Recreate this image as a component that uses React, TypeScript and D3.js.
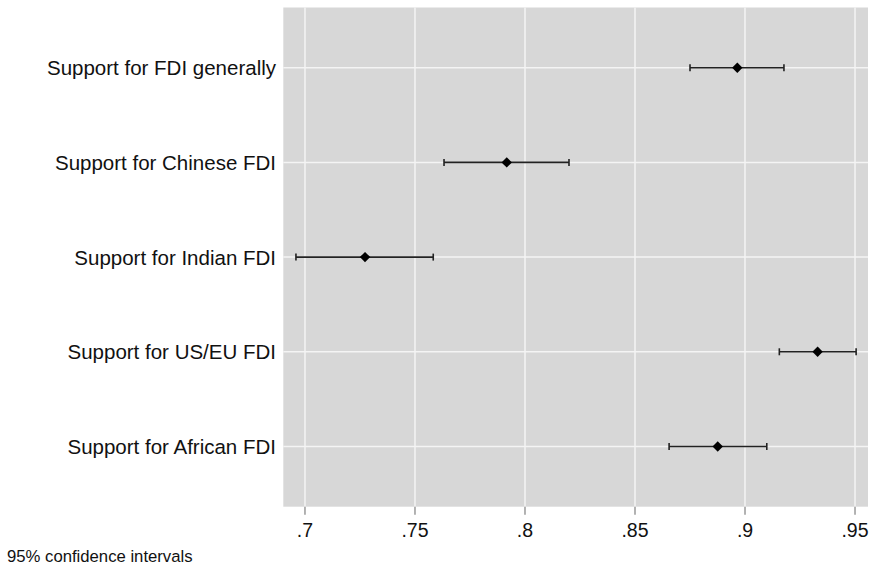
import React from "react";
import * as d3 from "d3";

const categories = [
  "Support for FDI generally",
  "Support for Chinese FDI",
  "Support for Indian FDI",
  "Support for US/EU FDI",
  "Support for African FDI",
];
const estimates = [0.8965, 0.7917, 0.7273, 0.933, 0.8876];
const lowerCI = [0.875, 0.7632, 0.6959, 0.9156, 0.8655];
const upperCI = [0.9177, 0.82, 0.7583, 0.9505, 0.9099];
const xTicks = [0.7, 0.75, 0.8, 0.85, 0.9, 0.95];
const xTickLabels = [".7", ".75", ".8", ".85", ".9", ".95"];
const note = "95% confidence intervals";

const W = 873;
const H = 569;
const plot = { left: 283.3, right: 868, top: 7.5, bottom: 506.7 };

export default function App() {
  const x = d3.scaleLinear().domain([0.69015, 0.9559]).range([plot.left, plot.right]);
  const y = d3
    .scalePoint<string>()
    .domain(categories)
    .range([plot.top, plot.bottom])
    .padding(0.636);
  const font = "'Liberation Sans', Arial, Helvetica, sans-serif";
  const r = 5.2;
  const diamond = `M0,${-r}L${r},0L0,${r}L${-r},0Z`;

  return (
    <div style={{ position: "absolute", left: 0, top: 0 }}>
      <svg width={W} height={H} style={{ display: "block", background: "#fff" }}>
        <rect
          x={plot.left}
          y={plot.top}
          width={plot.right - plot.left}
          height={plot.bottom - plot.top}
          fill="#d7d7d7"
        />
        {xTicks.map((t) => (
          <line
            key={"gx" + t}
            x1={x(t)}
            x2={x(t)}
            y1={plot.top}
            y2={plot.bottom}
            stroke="#f4f4f4"
            strokeWidth={1.5}
          />
        ))}
        {categories.map((c) => (
          <line
            key={"gy" + c}
            x1={plot.left}
            x2={plot.right}
            y1={y(c)}
            y2={y(c)}
            stroke="#f4f4f4"
            strokeWidth={1.5}
          />
        ))}
        {xTicks.map((t, i) => (
          <g key={"t" + t}>
            <line
              x1={x(t)}
              x2={x(t)}
              y1={plot.bottom}
              y2={plot.bottom + 8}
              stroke="#999"
              strokeWidth={1.5}
            />
            <text
              x={x(t)}
              y={537}
              textAnchor="middle"
              fontFamily={font}
              fontSize={19.5}
              fill="#111"
            >
              {xTickLabels[i]}
            </text>
          </g>
        ))}
        {categories.map((c, i) => {
          const cy = y(c) as number;
          return (
            <g key={"r" + c}>
              <text
                x={276}
                y={cy + 7.5}
                textAnchor="end"
                fontFamily={font}
                fontSize={20.5}
                fill="#111"
              >
                {c}
              </text>
              <line
                x1={x(lowerCI[i])}
                x2={x(upperCI[i])}
                y1={cy}
                y2={cy}
                stroke="#222"
                strokeWidth={1.6}
              />
              <line
                x1={x(lowerCI[i])}
                x2={x(lowerCI[i])}
                y1={cy - 3.5}
                y2={cy + 3.5}
                stroke="#222"
                strokeWidth={1.6}
              />
              <line
                x1={x(upperCI[i])}
                x2={x(upperCI[i])}
                y1={cy - 3.5}
                y2={cy + 3.5}
                stroke="#222"
                strokeWidth={1.6}
              />
              <path
                d={diamond}
                transform={`translate(${x(estimates[i])},${cy})`}
                fill="#000"
              />
            </g>
          );
        })}
        <text x={7} y={562} fontFamily={font} fontSize={16.7} fill="#111">
          {note}
        </text>
      </svg>
    </div>
  );
}
